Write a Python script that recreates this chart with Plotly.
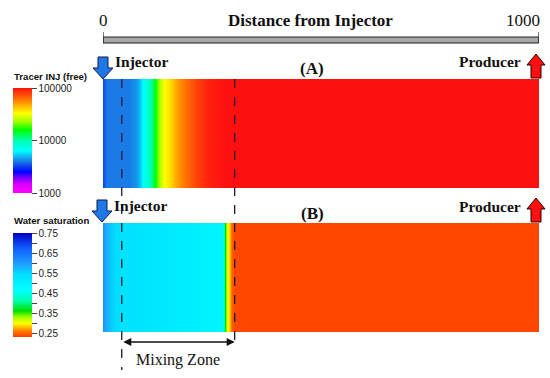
import numpy as np
import plotly.graph_objects as go

W, H = 550, 378

# ---------------- data ----------------
distance_a = [0, 10, 30, 60, 75, 85, 95, 105, 115, 122, 130, 140, 155, 170, 190, 215, 245, 280, 1000]
tracer_a = [3300, 4000, 4000, 4000, 4400, 5200, 6900, 8700, 12600, 17400, 25000, 33000, 40000,
            50000, 63000, 79000, 93000, 100000, 100000]

distance_b = [0, 10, 25, 45, 100, 200, 272, 279, 285, 291, 297, 303, 1000]
sw_b = [0.61, 0.58, 0.55, 0.535, 0.53, 0.51, 0.49, 0.37, 0.31, 0.28, 0.25, 0.24, 0.24]

tracer_tickvals = [1000, 10000, 100000]
tracer_ticktext = ["1000", "10000", "100000"]
sw_tickvals = [0.25, 0.30, 0.35, 0.40, 0.45, 0.50, 0.55, 0.60, 0.65, 0.70, 0.75]
sw_ticktext = ["0.25", "", "0.35", "", "0.45", "", "0.55", "", "0.65", "", "0.75"]

mixing_zone = [43, 302]
x_range = [0, 1000]

# ---------------- helpers ----------------
def px(p):
    return p / W

def py(p):
    return 1 - p / H

tracer_scale = [[0, '#ff00ff'], [0.08, '#e000ff'], [0.15, '#7000ff'], [0.2, '#0000ff'],
                [0.3, '#1a7ae6'], [0.4, '#00ffff'], [0.5, '#00ffb0'], [0.6, '#00ff00'],
                [0.68, '#a0ff00'], [0.76, '#ffff00'], [0.88, '#ff8000'], [1.0, '#ff1010']]
sw_scale = [[0, '#ff3c00'], [0.06, '#ff8000'], [0.13, '#ffff00'], [0.19, '#a0ff00'],
            [0.25, '#00e000'], [0.35, '#00ffb0'], [0.45, '#00ffff'], [0.6, '#00e0ff'],
            [0.7, '#20a0ff'], [0.85, '#1060ff'], [1, '#0000c0']]

fig = go.Figure()
fig.add_trace(go.Heatmap(x=distance_a, y=[0], z=[list(np.log10(tracer_a))],
                         coloraxis='coloraxis', zsmooth='best', xaxis='x', yaxis='y',
                         hoverinfo='skip'))
fig.add_trace(go.Heatmap(x=distance_b, y=[0], z=[sw_b],
                         coloraxis='coloraxis2', zsmooth='best', xaxis='x', yaxis='y2',
                         hoverinfo='skip'))

tickfont = dict(family='Liberation Sans', size=10, color='#222')
fig.update_layout(
    width=W, height=H, autosize=False,
    margin=dict(l=0, r=0, t=0, b=0),
    paper_bgcolor='white', plot_bgcolor='white',
    showlegend=False,
    xaxis=dict(domain=[px(103), px(539)], range=x_range, visible=False),
    yaxis=dict(domain=[py(188), py(79)], range=[-0.5, 0.5], visible=False),
    yaxis2=dict(domain=[py(332), py(223)], range=[-0.5, 0.5], visible=False, anchor='x'),
    coloraxis=dict(cmin=3, cmax=5, colorscale=tracer_scale,
                   colorbar=dict(x=px(13), xanchor='left', y=py(88), yanchor='top',
                                 len=105, lenmode='pixels', thickness=19, thicknessmode='pixels',
                                 xpad=0, ypad=0, outlinewidth=0,
                                 tickvals=list(np.log10(tracer_tickvals)), ticktext=tracer_ticktext,
                                 ticks='outside', ticklen=5, tickcolor='#444', tickfont=tickfont)),
    coloraxis2=dict(cmin=0.235, cmax=0.75, colorscale=sw_scale,
                    colorbar=dict(x=px(13), xanchor='left', y=py(233), yanchor='top',
                                  len=104, lenmode='pixels', thickness=19, thicknessmode='pixels',
                                  xpad=0, ypad=0, outlinewidth=0,
                                  tickvals=sw_tickvals, ticktext=sw_ticktext,
                                  ticks='outside', ticklen=5, tickcolor='#444', tickfont=tickfont)),
)

shapes = []
# distance scale bar
shapes.append(dict(type='rect', xref='x', yref='paper', x0=x_range[0], x1=x_range[1],
                   y0=py(43), y1=py(37), fillcolor='#a8a8a8', line=dict(color='#222', width=1)))
for xv in x_range:
    shapes.append(dict(type='line', xref='x', yref='paper', x0=xv, x1=xv, y0=py(43), y1=py(32),
                       line=dict(color='#222', width=1.2)))
# dashed mixing-zone lines
shapes.append(dict(type='line', xref='x', yref='paper', x0=mixing_zone[0], x1=mixing_zone[0],
                   y0=py(79), y1=py(370), line=dict(color='#1a1a3a', width=1.3, dash='dash'),
                   layer='above'))
shapes.append(dict(type='line', xref='x', yref='paper', x0=mixing_zone[1], x1=mixing_zone[1],
                   y0=py(79), y1=py(349), line=dict(color='#1a1a3a', width=1.3, dash='dash'),
                   layer='above'))

def down_arrow(cx, top, head, tip, sw=5, hw=10):
    pts = [(cx - sw, top), (cx + sw, top), (cx + sw, head), (cx + hw, head), (cx, tip),
           (cx - hw, head), (cx - sw, head)]
    return 'M ' + ' L '.join(f'{px(a):.5f},{py(b):.5f}' for a, b in pts) + ' Z'

def up_arrow(cx, tip, head, bottom, sw=5, hw=9):
    pts = [(cx, tip), (cx + hw, head), (cx + sw, head), (cx + sw, bottom), (cx - sw, bottom),
           (cx - sw, head), (cx - hw, head)]
    return 'M ' + ' L '.join(f'{px(a):.5f},{py(b):.5f}' for a, b in pts) + ' Z'

blue = '#1f78e6'
red = '#ff1010'
for (cx, top, head, tip) in [(103, 57, 68, 79), (102, 200, 211, 222)]:
    shapes.append(dict(type='path', xref='paper', yref='paper', path=down_arrow(cx, top, head, tip),
                       fillcolor=blue, line=dict(color='#10204a', width=1)))
for (cx, tip, head, bottom) in [(536, 54, 65, 78), (536, 198, 209, 222)]:
    shapes.append(dict(type='path', xref='paper', yref='paper', path=up_arrow(cx, tip, head, bottom),
                       fillcolor=red, line=dict(color='#200000', width=1)))
fig.update_layout(shapes=shapes)

serif = 'Liberation Serif'
ann = []
def text(x, y, s, size, bold=False, family=serif, xanchor='center', color='#111'):
    ann.append(dict(x=px(x), y=py(y), xref='paper', yref='paper', text=f'<b>{s}</b>' if bold else s,
                    showarrow=False, xanchor=xanchor, yanchor='middle',
                    font=dict(family=family, size=size, color=color)))

text(103, 20, '0', 17)
text(523, 20, '1000', 17)
text(310, 20, 'Distance from Injector', 17, bold=True)
text(113, 61, 'Injector', 15.5, bold=True, xanchor='left')
text(112, 205, 'Injector', 15.5, bold=True, xanchor='left')
text(523, 62, 'Producer', 15.5, bold=True, xanchor='right')
text(523, 206, 'Producer', 15.5, bold=True, xanchor='right')
text(312, 68, '(A)', 17, bold=True)
text(312, 213, '(B)', 17, bold=True)
text(178, 360, 'Mixing Zone', 16)
text(12, 76, 'Tracer INJ (free)', 9.6, bold=True, family='Liberation Sans', xanchor='left')
text(12, 220, 'Water saturation', 9.6, bold=True, family='Liberation Sans', xanchor='left')

# mixing zone double arrow
ann.append(dict(x=mixing_zone[1], y=py(342), xref='x', yref='paper', ax=mixing_zone[0], ay=0,
                axref='x', ayref='pixel', text='', showarrow=True, arrowhead=2, arrowside='end+start',
                arrowsize=1, arrowwidth=1.6, arrowcolor='#111', standoff=0, startstandoff=0))
fig.update_layout(annotations=ann)

fig.write_html('out.html', config={'displayModeBar': False, 'staticPlot': True},
               post_script="document.body.style.margin='0';document.body.style.padding='0';")
